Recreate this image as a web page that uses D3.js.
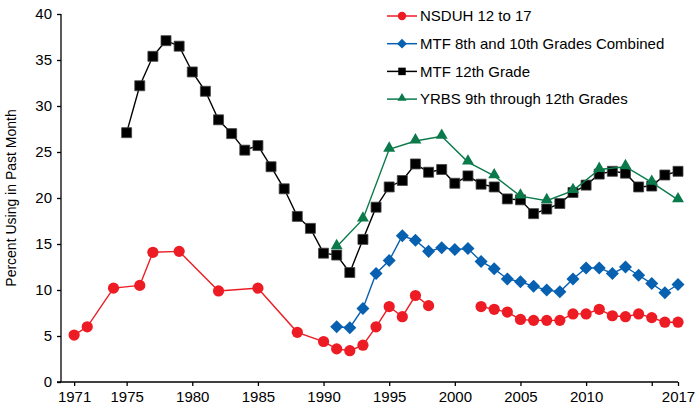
<!DOCTYPE html>
<html>
<head>
<meta charset="utf-8">
<script src="https://cdn.jsdelivr.net/npm/d3@7"></script>
<style>
  body { margin: 0; background: #fff; }
  text { font-family: "Liberation Sans", Arial, sans-serif; fill: #000; }
</style>
</head>
<body>
<div id="chart-area"></div>
<script>
// DATA
var nsduhYears = [1971, 1972, 1974, 1976, 1977, 1979, 1982, 1985, 1988, 1990, 1991, 1992, 1993, 1994, 1995, 1996, 1997, 1998, 1999,
    2002, 2003, 2004, 2005, 2006, 2007, 2008, 2009, 2010, 2011, 2012, 2013, 2014, 2015, 2016, 2017];
var nsduhValues = [5.1, 6.0, 10.2, 10.5, 14.1, 14.2, 9.9, 10.2, 5.4, 4.4, 3.6, 3.4, 4.0, 6.0, 8.2, 7.1, 9.4, 8.3, null,
    8.2, 7.9, 7.6, 6.8, 6.7, 6.7, 6.7, 7.4, 7.4, 7.9, 7.2, 7.1, 7.4, 7.0, 6.5, 6.5];

var mtf810Years = d3.range(1991, 2018);
var mtf810Values = [6.0, 5.9, 8.0, 11.8, 13.2, 15.9, 15.4, 14.2, 14.6, 14.4, 14.5, 13.1, 12.3, 11.2, 10.9, 10.4, 10.0, 9.8,
    11.2, 12.4, 12.4, 11.8, 12.5, 11.6, 10.7, 9.7, 10.6];

var mtf12Years = d3.range(1975, 2018);
var mtf12Values = [27.1, 32.2, 35.4, 37.1, 36.5, 33.7, 31.6, 28.5, 27.0, 25.2, 25.7, 23.4, 21.0, 18.0, 16.7, 14.0, 13.8, 11.9,
    15.5, 19.0, 21.2, 21.9, 23.7, 22.8, 23.1, 21.6, 22.4, 21.5, 21.2, 19.9, 19.8, 18.3, 18.8, 19.4, 20.6, 21.4, 22.6, 22.9,
    22.7, 21.2, 21.3, 22.5, 22.9];

var yrbsYears = [1991, 1993, 1995, 1997, 1999, 2001, 2003, 2005, 2007, 2009, 2011, 2013, 2015, 2017];
var yrbsValues = [14.7, 17.7, 25.3, 26.2, 26.7, 23.9, 22.4, 20.2, 19.7, 20.8, 23.1, 23.4, 21.7, 19.8];

var xTicks = [1971, 1975, 1980, 1985, 1990, 1995, 2000, 2005, 2010, 2015, 2017];
var xTickLabels = ["1971", "1975", "1980", "1985", "1990", "1995", "2000", "2005", "2010", "", "2017"];
var yTicks = [0, 5, 10, 15, 20, 25, 30, 35, 40];

// SERIES
var series = [
    { name: "NSDUH 12 to 17", years: nsduhYears, values: nsduhValues, color: "#ed1c24", symbol: "circle" },
    { name: "MTF 8th and 10th Grades Combined", years: mtf810Years, values: mtf810Values, color: "#0760b0", symbol: "diamond" },
    { name: "MTF 12th Grade", years: mtf12Years, values: mtf12Values, color: "#000000", symbol: "square" },
    { name: "YRBS 9th through 12th Grades", years: yrbsYears, values: yrbsValues, color: "#0b7a4b", symbol: "triangle" }
];

// GRAPHIC'S SIZE
var margin = { top: 14, right: 22, bottom: 36, left: 61 };
var width = 700 - margin.left - margin.right;
var height = 418 - margin.top - margin.bottom;

var svg = d3.select("#chart-area")
    .append("svg")
    .attr("width", 700)
    .attr("height", 418);

var g = svg.append("g")
    .attr("transform", "translate(" + margin.left + "," + margin.top + ")");

var x = d3.scaleLinear().domain([1970, 2017]).range([0, width]);
var y = d3.scaleLinear().domain([0, 40]).range([height, 0]);

// Axes
var xAxisCall = d3.axisBottom(x)
    .tickValues(xTicks)
    .tickSize(4)
    .tickFormat((d, i) => xTickLabels[i]);
var xAxisGroup = g.append("g")
    .attr("transform", "translate(0," + height + ")")
    .call(xAxisCall);

var yAxisCall = d3.axisLeft(y)
    .tickValues(yTicks)
    .tickSize(4)
    .tickFormat(d3.format("d"));
var yAxisGroup = g.append("g").call(yAxisCall);

[xAxisGroup, yAxisGroup].forEach(ax => {
    ax.select(".domain").attr("stroke", "#000").attr("stroke-width", 1.3);
    ax.selectAll(".tick line").attr("stroke", "#000").attr("stroke-width", 1.3);
    ax.selectAll(".tick text")
        .attr("font-size", "15px")
        .attr("font-family", "Liberation Sans, Arial, sans-serif");
});
xAxisGroup.select(".domain").attr("d", "M-4,0H" + width);
yAxisGroup.select(".domain").attr("d", "M0," + height + "V0");
xAxisGroup.selectAll(".tick text").attr("dy", "0.95em").attr("y", 6);
yAxisGroup.selectAll(".tick text").attr("x", -9);

// Y label
g.append("text")
    .attr("x", -(height / 2))
    .attr("y", -45)
    .attr("font-size", "14px")
    .attr("text-anchor", "middle")
    .attr("transform", "rotate(-90)")
    .text("Percent Using in Past Month");

// Marker drawing
function marker(sel, type, scale) {
    if (type === "circle") {
        sel.append("circle").attr("r", 5.6 * scale);
    } else if (type === "diamond") {
        sel.append("path")
            .attr("d", d3.symbol().type(d3.symbolSquare).size(85 * scale * scale)())
            .attr("transform", "rotate(45)");
    } else if (type === "square") {
        sel.append("path").attr("d", d3.symbol().type(d3.symbolSquare).size(100 * scale * scale)());
    } else {
        sel.append("path")
            .attr("d", d3.symbol().type(d3.symbolTriangle).size(62 * scale * scale)())
            .attr("transform", "translate(0,-1)");
    }
}

var line = d3.line()
    .defined(d => d.v != null)
    .x(d => x(d.year))
    .y(d => y(d.v));

series.forEach(s => {
    var pts = s.years.map((yr, i) => ({ year: yr, v: s.values[i] }));
    g.append("path")
        .datum(pts)
        .attr("fill", "none")
        .attr("stroke", s.color)
        .attr("stroke-width", 1.4)
        .attr("d", line);

    g.selectAll(null)
        .data(pts.filter(d => d.v != null))
        .enter().append("g")
        .attr("transform", d => "translate(" + x(d.year) + "," + y(d.v) + ")")
        .attr("fill", s.color)
        .attr("stroke", s.symbol === "square" ? "#444" : "none")
        .attr("stroke-width", 0.8)
        .each(function () { marker(d3.select(this), s.symbol, 1); });
});

// Legend
var legend = svg.append("g").attr("transform", "translate(387,16)");
series.forEach((s, i) => {
    var row = legend.append("g").attr("transform", "translate(0," + (i * 27.7) + ")");
    row.append("line")
        .attr("x1", 0).attr("x2", 30)
        .attr("stroke", s.color).attr("stroke-width", 1.5);
    var m = row.append("g").attr("transform", "translate(15,0)").attr("fill", s.color);
    marker(m, s.symbol, 0.75);
    row.append("text")
        .attr("x", 33)
        .attr("dy", "0.35em")
        .attr("font-size", "15px")
        .text(s.name);
});
</script>
</body>
</html>
